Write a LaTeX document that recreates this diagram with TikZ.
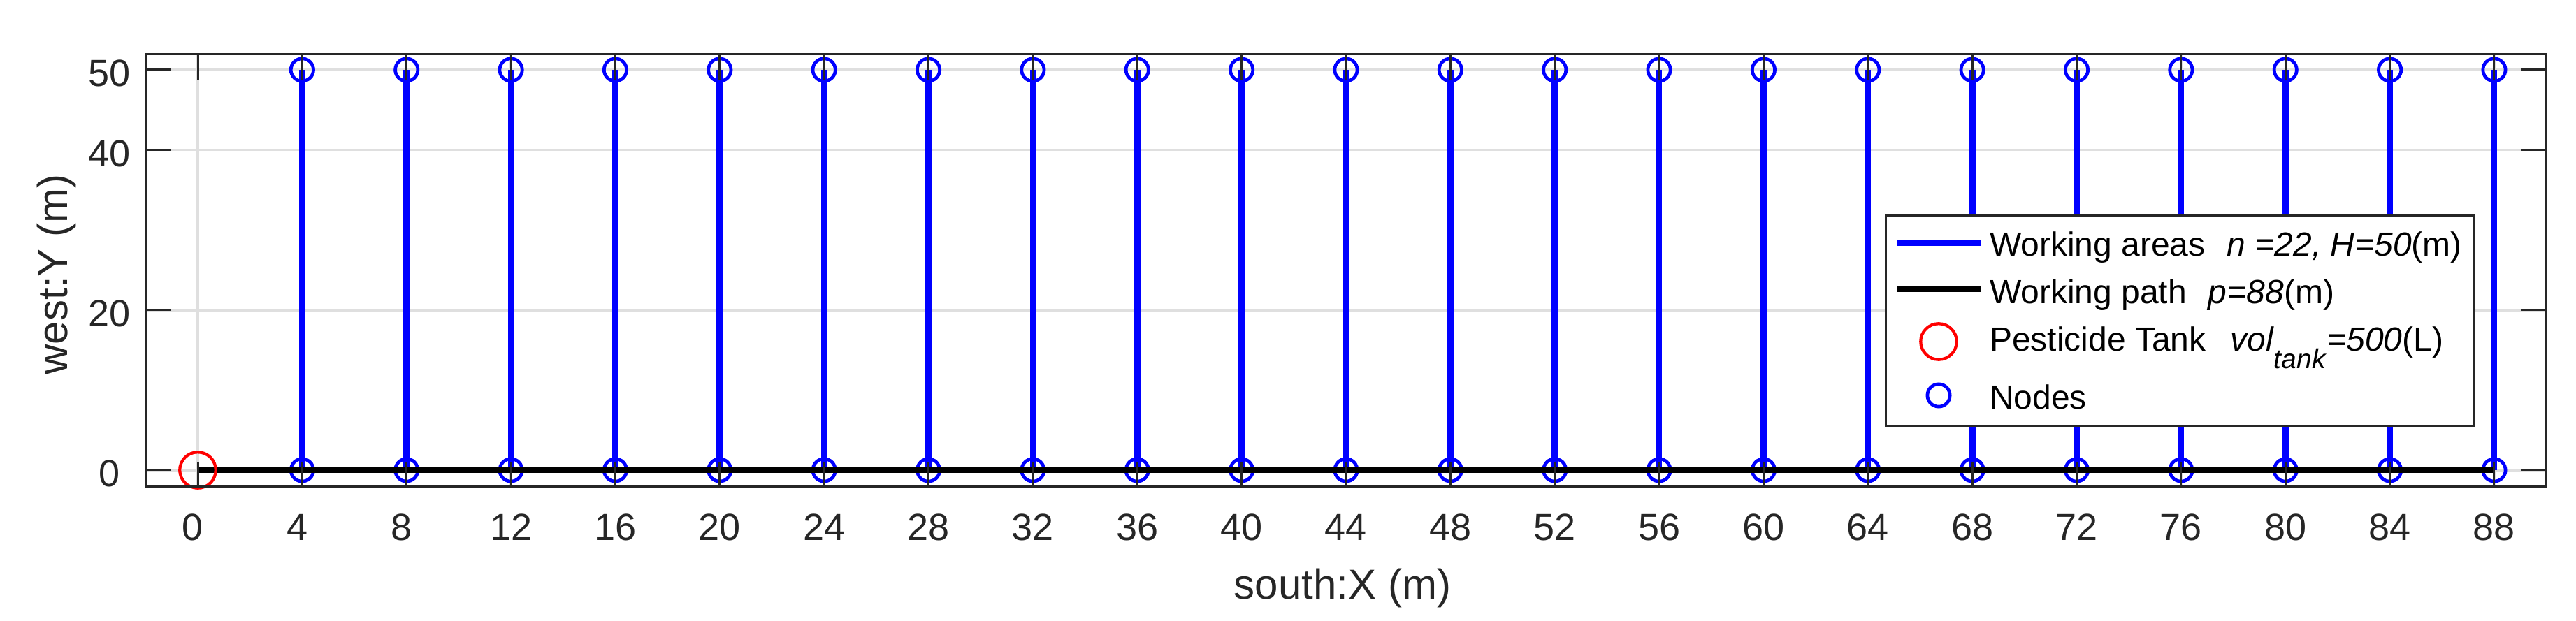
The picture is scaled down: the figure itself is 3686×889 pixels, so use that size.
\documentclass[tikz,border=0pt]{standalone}
\usepackage{fontspec}
\setmainfont{Liberation Sans}
\definecolor{axc}{HTML}{262626}
\definecolor{gridc}{HTML}{DFDFDF}
\definecolor{mblue}{HTML}{0000FF}
\definecolor{mred}{HTML}{FF0000}
\begin{document}
\begin{tikzpicture}[x=0.2pt,y=-0.2pt,
  ticklbl/.style={font=\fontsize{10.8pt}{13pt}\selectfont, text=axc, inner sep=0, anchor=base},
  axlbl/.style={font=\fontsize{12pt}{14pt}\selectfont, text=axc, inner sep=0, anchor=base},
  legtxt/.style={font=\fontsize{9.6pt}{11pt}\selectfont, text=black, inner sep=0, anchor=base west},
  nodemark/.style={circle, draw=mblue, line width=0.95pt, minimum size=6.45pt, inner sep=0},
  tankmark/.style={circle, draw=mred, line width=0.85pt, minimum size=10.3pt, inner sep=0},
  arealine/.style={draw=mblue, line width=1.75pt},
  pathline/.style={draw=black, line width=1.75pt},
  gridline/.style={draw=gridc, line width=0.7pt},
  axline/.style={draw=axc, line width=0.6pt},
  legbox/.style={draw=axc, fill=white, line width=0.6pt, inner sep=0, anchor=north west,
    minimum width=168.4pt, minimum height=60.2pt}
]
\useasboundingbox (0,0) rectangle (3686,889);
\fill[white] (0,0) rectangle (3686,889);
% grid
\foreach \k in {0,...,22} {
  \pgfmathsetmacro\xx{283+149.36*\k}
  \draw[gridline] (\xx,78) -- (\xx,697);
}
\foreach \v in {0,20,40,50} {
  \pgfmathsetmacro\yy{673-11.46*\v}
  \draw[gridline] (208,\yy) -- (3643,\yy);
}
% nodes and working areas
\foreach \k in {1,...,22} {
  \pgfmathsetmacro\xx{283+149.36*\k}
  \node[nodemark] (b\k) at (\xx,673) {};
  \node[nodemark] (t\k) at (\xx,100) {};
  \draw[arealine] (b\k.center) -- (t\k.center);
}
% working path and tank
\coordinate (tankc) at (283,673);
\draw[pathline] (tankc) -- (b22.center);
\node[tankmark] (tank) at (tankc) {};
% axes box and ticks
\draw[axline] (208,78) rectangle (3643,697);
\foreach \k in {0,...,22} {
  \pgfmathsetmacro\xx{283+149.36*\k}
  \pgfmathtruncatemacro\lab{4*\k}
  \draw[axline] (\xx,697) -- (\xx,661);
  \draw[axline] (\xx,78) -- (\xx,114);
  \ifnum\lab<10
    \node[ticklbl] (xl\k) at (\xx-7,774) {\lab};
  \else
    \node[ticklbl] (xl\k) at (\xx,774) {\lab};
  \fi
}
\foreach \v in {0,20,40,50} {
  \pgfmathsetmacro\yy{673-11.46*\v}
  \draw[axline] (208,\yy) -- (244,\yy);
  \draw[axline] (3643,\yy) -- (3607,\yy);
  \node[ticklbl] (yl\v) at (157,\yy+24) {\v};
}
% axis labels
\node[axlbl] (xlab) at (1921,857) {south:X (m)};
\node[axlbl, rotate=90] (ylab) at (97,393) {west:Y (m)};
% legend
\node[legbox] (legend) at (2697,307) {};
\coordinate (l1a) at (2714,348); \coordinate (l1b) at (2834,348);
\draw[arealine] (l1a) -- (l1b);
\coordinate (l2a) at (2714,414); \coordinate (l2b) at (2834,414);
\draw[pathline] (l2a) -- (l2b);
\node[tankmark] (legtank) at (2774,489) {};
\node[nodemark] (legnode) at (2774,566) {};
\node[legtxt] (lt1) at (2846,367) {Working areas\hspace{6.2pt}\textit{n =22, H=50}(m)};
\node[legtxt] (lt2) at (2846,435) {Working path\hspace{6.2pt}\textit{p=88}(m)};
\node[legtxt] (lt3) at (2846,503) {Pesticide Tank\hspace{7pt}\textit{vol}\raisebox{-5pt}{\fontsize{7.8pt}{9pt}\selectfont\textit{tank}}\textit{=500}(L)};
\node[legtxt] (lt4) at (2846,586) {Nodes};
\end{tikzpicture}
\end{document}
